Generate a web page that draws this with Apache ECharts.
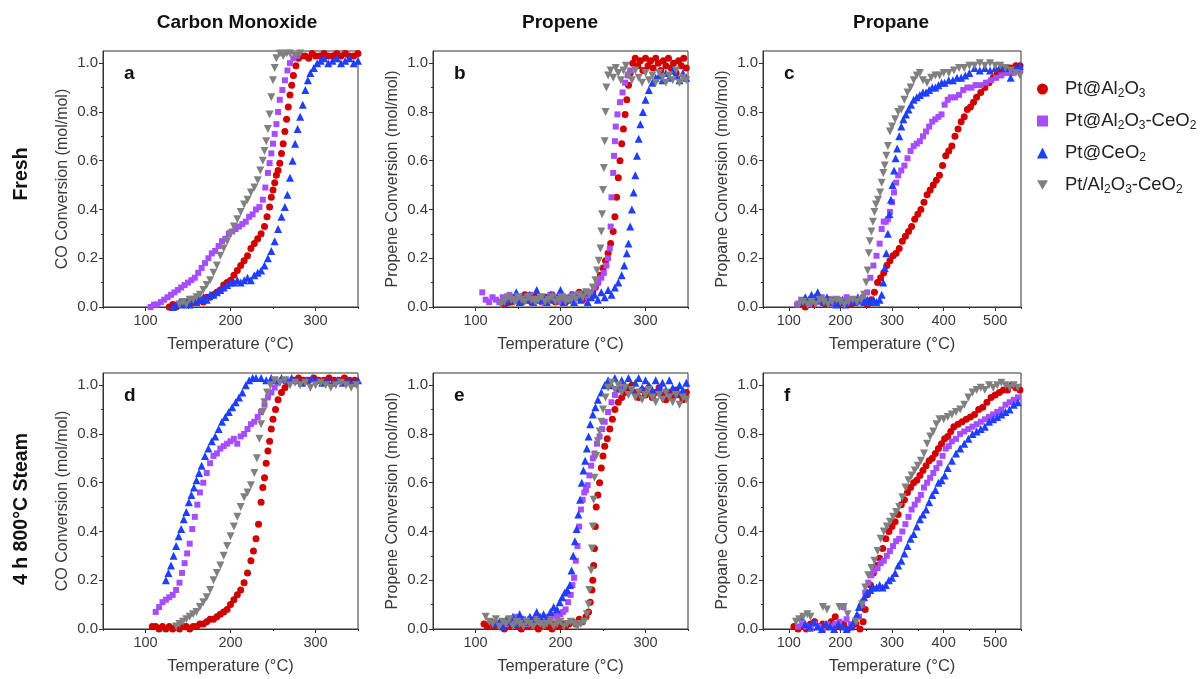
<!DOCTYPE html>
<html>
<head>
<meta charset="utf-8">
<title>Light-off curves</title>
<script src="https://cdn.jsdelivr.net/npm/echarts@6/dist/echarts.min.js"></script>
<style>
  html, body { margin: 0; padding: 0; background: #fff; }
  #chart { width: 1201px; height: 679px; }
</style>
</head>
<body>
<div id="chart"></div>
<script>
// ---- catalyst names (legend order) ----
const catalysts = ['Pt@Al2O3', 'Pt@Al2O3-CeO2', 'Pt@CeO2', 'Pt/Al2O3-CeO2'];

// ---- column / row headings ----
const columnTitles = ['Carbon Monoxide', 'Propene', 'Propane'];
const rowTitles = ['Fresh', '4 h 800°C Steam'];
const panelLetters = ['a', 'b', 'c', 'd', 'e', 'f'];

// ---- axis ticks ----
const yTicks = [0, 0.2, 0.4, 0.6, 0.8, 1.0];
const yMinorTicks = [0.1, 0.3, 0.5, 0.7, 0.9];
const xTicksShort = [100, 200, 300];
const xMinorShort = [50, 150, 250, 350];
const xTicksLong = [100, 200, 300, 400, 500];
const xMinorLong = [50, 150, 250, 350, 450, 550];

// ---- (a) CO, fresh : [temperature °C, conversion mol/mol] ----
const coFreshPtAl = [[128,0.00],[132,0.01],[136,0.00],[140,0.01],[144,0.01],[148,0.02],[152,0.01],[156,0.02],[160,0.02],[164,0.03],[168,0.02],[172,0.04],[176,0.04],[180,0.05],[184,0.06],[188,0.07],[192,0.09],[196,0.10],[200,0.11],[204,0.13],[208,0.15],[212,0.17],[216,0.19],[220,0.21],[224,0.24],[228,0.26],[232,0.28],[236,0.30],[240,0.33],[243,0.37],[246,0.41],[248,0.45],[250,0.48],[252,0.51],[254,0.54],[256,0.56],[258,0.59],[260,0.63],[262,0.67],[264,0.72],[266,0.77],[268,0.82],[270,0.87],[272,0.91],[274,0.95],[277,0.99],[280,1.02],[284,1.03],[288,1.03],[292,1.02],[296,1.04],[300,1.03],[305,1.03],[310,1.04],[315,1.03],[320,1.03],[325,1.04],[330,1.03],[335,1.04],[340,1.03],[345,1.03],[350,1.04]];
const coFreshPtAlCe = [[106,0.00],[110,0.01],[114,0.01],[118,0.02],[122,0.03],[126,0.04],[130,0.05],[134,0.06],[138,0.07],[142,0.08],[146,0.09],[150,0.10],[154,0.11],[158,0.12],[162,0.14],[166,0.16],[170,0.18],[174,0.20],[178,0.22],[182,0.23],[186,0.25],[190,0.27],[194,0.28],[198,0.30],[202,0.31],[206,0.32],[210,0.33],[214,0.34],[218,0.35],[222,0.37],[226,0.38],[230,0.40],[234,0.41],[238,0.44],[241,0.49],[244,0.55],[246,0.59],[248,0.63],[250,0.67],[252,0.71],[254,0.75],[256,0.80],[258,0.85],[261,0.89],[264,0.93],[267,0.97],[270,1.00],[274,1.02],[278,1.03]];
const coFreshPtCe = [[132,0.00],[136,0.01],[140,0.02],[144,0.01],[148,0.02],[152,0.01],[156,0.03],[160,0.02],[164,0.03],[168,0.04],[172,0.03],[176,0.05],[180,0.05],[184,0.06],[188,0.07],[192,0.08],[196,0.09],[200,0.10],[204,0.10],[208,0.11],[212,0.10],[216,0.11],[220,0.12],[224,0.11],[228,0.13],[232,0.14],[236,0.15],[240,0.17],[244,0.20],[248,0.23],[252,0.27],[256,0.32],[260,0.37],[264,0.41],[267,0.46],[270,0.53],[273,0.60],[276,0.67],[279,0.73],[282,0.78],[285,0.83],[288,0.89],[291,0.93],[294,0.96],[298,0.98],[302,1.00],[306,1.01],[310,1.02],[315,1.00],[320,1.01],[325,1.02],[330,1.00],[335,1.01],[340,1.02],[345,1.00],[350,1.01]];
const coFreshImp = [[140,0.01],[144,0.02],[148,0.01],[152,0.03],[156,0.03],[160,0.04],[164,0.05],[168,0.07],[172,0.09],[176,0.11],[180,0.14],[184,0.17],[188,0.21],[192,0.24],[196,0.27],[200,0.30],[204,0.33],[208,0.36],[212,0.39],[216,0.42],[220,0.44],[224,0.47],[228,0.49],[232,0.52],[235,0.56],[238,0.60],[240,0.64],[242,0.68],[244,0.73],[246,0.79],[248,0.86],[250,0.93],[252,0.98],[254,1.02],[258,1.04],[262,1.03],[266,1.04],[270,1.04],[276,1.03],[282,1.04]];

// ---- (b) propene, fresh ----
const c3h6FreshPtAl = [[130,0.02],[134,0.01],[138,0.03],[142,0.02],[146,0.04],[150,0.03],[154,0.02],[158,0.05],[162,0.03],[166,0.02],[170,0.04],[174,0.03],[178,0.02],[182,0.04],[186,0.03],[190,0.05],[194,0.02],[198,0.03],[202,0.04],[206,0.02],[210,0.03],[214,0.05],[218,0.04],[222,0.06],[226,0.03],[230,0.05],[234,0.04],[238,0.06],[241,0.08],[244,0.10],[247,0.13],[250,0.16],[253,0.19],[256,0.22],[259,0.26],[262,0.31],[264,0.37],[266,0.45],[268,0.53],[270,0.60],[272,0.67],[274,0.73],[276,0.79],[278,0.85],[280,0.91],[282,0.96],[285,1.00],[288,1.02],[291,0.99],[294,1.01],[297,0.97],[300,1.02],[303,0.99],[306,1.01],[309,0.98],[312,1.02],[315,1.00],[318,0.97],[321,1.01],[324,0.99],[327,1.02],[330,0.98],[333,1.00],[336,0.96],[339,1.01],[342,0.99],[345,1.02],[348,0.98]];
const c3h6FreshPtAlCe = [[108,0.06],[112,0.03],[116,0.02],[120,0.04],[124,0.03],[128,0.02],[132,0.04],[136,0.03],[140,0.05],[144,0.04],[148,0.03],[152,0.02],[156,0.04],[160,0.03],[164,0.05],[168,0.02],[172,0.03],[176,0.04],[180,0.02],[184,0.03],[188,0.05],[192,0.03],[196,0.04],[200,0.02],[204,0.03],[208,0.04],[212,0.03],[216,0.05],[220,0.04],[224,0.03],[228,0.05],[232,0.04],[236,0.06],[240,0.08],[244,0.10],[248,0.12],[251,0.14],[254,0.17],[256,0.20],[258,0.24],[259,0.33],[260,0.45],[262,0.55],[263,0.62],[264,0.68],[265,0.74],[267,0.79],[270,0.84],[273,0.88],[276,0.92],[279,0.95],[282,0.97]];
const c3h6FreshPtCe = [[136,0.02],[140,0.04],[144,0.03],[148,0.06],[152,0.02],[156,0.04],[160,0.03],[164,0.05],[168,0.02],[172,0.07],[176,0.03],[180,0.04],[184,0.02],[188,0.05],[192,0.03],[196,0.04],[200,0.07],[204,0.02],[208,0.03],[212,0.05],[216,0.02],[220,0.04],[224,0.03],[228,0.06],[232,0.02],[236,0.04],[240,0.05],[244,0.03],[248,0.06],[252,0.04],[256,0.07],[260,0.05],[264,0.08],[268,0.10],[272,0.13],[275,0.17],[278,0.22],[280,0.26],[282,0.33],[284,0.40],[286,0.47],[288,0.54],[290,0.62],[292,0.69],[294,0.75],[297,0.80],[300,0.85],[304,0.89],[308,0.92],[312,0.94],[316,0.95],[320,0.93],[324,0.96],[328,0.94],[332,0.97],[336,0.95],[340,0.93],[344,0.96],[348,0.94]];
const c3h6FreshImp = [[130,0.01],[134,0.02],[138,0.04],[142,0.03],[146,0.02],[150,0.04],[154,0.03],[158,0.02],[162,0.04],[166,0.03],[170,0.02],[174,0.03],[178,0.04],[182,0.02],[186,0.03],[190,0.04],[194,0.02],[198,0.03],[202,0.04],[206,0.02],[210,0.03],[214,0.04],[218,0.03],[222,0.05],[226,0.04],[230,0.06],[234,0.05],[238,0.08],[241,0.11],[243,0.15],[245,0.19],[247,0.24],[248,0.31],[249,0.38],[250,0.48],[251,0.57],[252,0.68],[253,0.80],[254,0.90],[256,0.95],[259,0.97],[262,0.94],[265,0.98],[268,0.96],[271,0.93],[274,0.97],[277,0.99],[280,0.95],[284,0.93],[288,0.97],[292,0.94],[296,0.92],[300,0.96],[304,0.93],[308,0.95],[312,0.92],[316,0.96],[320,0.94],[324,0.92],[328,0.95],[332,0.93],[336,0.97],[340,0.92],[344,0.94],[348,0.93]];

// ---- (c) propane, fresh ----
const c3h8FreshPtAl = [[124,0.01],[132,0.00],[140,0.02],[148,0.01],[156,0.03],[164,0.02],[172,0.01],[180,0.03],[188,0.02],[196,0.01],[204,0.02],[212,0.03],[220,0.01],[228,0.02],[236,0.03],[244,0.02],[252,0.01],[260,0.03],[266,0.06],[272,0.10],[278,0.12],[284,0.14],[290,0.17],[296,0.19],[302,0.21],[308,0.22],[314,0.24],[320,0.27],[326,0.29],[332,0.31],[338,0.33],[344,0.36],[350,0.38],[356,0.40],[362,0.43],[368,0.46],[374,0.48],[380,0.50],[386,0.52],[392,0.54],[398,0.58],[404,0.62],[410,0.64],[416,0.66],[422,0.70],[428,0.73],[434,0.76],[440,0.78],[446,0.81],[452,0.82],[458,0.84],[464,0.86],[472,0.88],[480,0.90],[488,0.92],[496,0.94],[504,0.96],[512,0.97],[520,0.98],[530,0.98],[540,0.99],[548,0.99]];
const c3h8FreshPtAlCe = [[116,0.01],[124,0.03],[132,0.02],[140,0.01],[148,0.03],[156,0.02],[164,0.04],[172,0.02],[180,0.03],[188,0.01],[196,0.03],[204,0.02],[212,0.04],[220,0.02],[228,0.03],[236,0.02],[244,0.04],[252,0.06],[258,0.12],[264,0.17],[270,0.21],[276,0.26],[280,0.32],[284,0.35],[288,0.35],[292,0.36],[296,0.39],[300,0.43],[304,0.47],[308,0.51],[312,0.54],[318,0.56],[324,0.58],[330,0.61],[336,0.64],[342,0.66],[348,0.67],[354,0.68],[360,0.70],[366,0.72],[372,0.74],[378,0.76],[384,0.77],[390,0.78],[396,0.79],[402,0.83],[408,0.85],[414,0.86],[422,0.86],[430,0.87],[438,0.89],[446,0.90],[454,0.90],[462,0.91],[472,0.91],[482,0.92],[492,0.93],[502,0.94],[512,0.95],[522,0.96],[532,0.96],[542,0.97],[548,0.97]];
const c3h8FreshPtCe = [[126,0.02],[132,0.04],[138,0.03],[144,0.05],[150,0.04],[156,0.06],[162,0.03],[168,0.02],[174,0.04],[180,0.02],[186,0.03],[192,0.01],[198,0.02],[204,0.03],[210,0.01],[216,0.02],[222,0.03],[228,0.02],[234,0.04],[240,0.03],[246,0.02],[252,0.03],[258,0.02],[264,0.03],[270,0.02],[276,0.03],[280,0.05],[283,0.10],[286,0.16],[289,0.22],[292,0.30],[295,0.38],[298,0.44],[301,0.50],[304,0.56],[307,0.61],[310,0.65],[314,0.70],[318,0.74],[322,0.77],[327,0.79],[332,0.81],[337,0.83],[342,0.85],[348,0.86],[354,0.87],[360,0.88],[366,0.88],[372,0.89],[378,0.90],[384,0.90],[390,0.91],[396,0.92],[402,0.92],[410,0.93],[418,0.93],[426,0.94],[434,0.94],[442,0.95],[450,0.96],[460,0.98],[470,0.97],[480,0.98],[490,0.97],[500,0.98],[510,0.99],[520,0.98],[530,0.94],[540,0.98],[548,0.99]];
const c3h8FreshImp = [[120,0.01],[128,0.02],[136,0.01],[144,0.02],[152,0.01],[160,0.03],[168,0.02],[176,0.01],[184,0.02],[192,0.03],[200,0.02],[208,0.01],[216,0.02],[224,0.03],[232,0.02],[240,0.03],[246,0.05],[250,0.10],[253,0.15],[255,0.22],[257,0.27],[260,0.31],[263,0.35],[266,0.39],[269,0.42],[273,0.44],[277,0.47],[280,0.51],[283,0.55],[286,0.58],[289,0.62],[292,0.66],[296,0.72],[300,0.74],[306,0.77],[312,0.80],[318,0.81],[324,0.85],[330,0.88],[336,0.90],[342,0.93],[348,0.95],[354,0.96],[360,0.93],[368,0.92],[376,0.94],[384,0.95],[392,0.95],[400,0.96],[410,0.96],[420,0.97],[430,0.98],[440,0.98],[450,0.99],[460,0.99],[470,1.00],[480,0.99],[490,1.00],[500,0.99],[510,0.99],[520,0.98],[530,0.97],[540,0.96],[548,0.95]];

// ---- (d) CO, 4 h 800 °C steam ----
const coAgedPtAl = [[108,0.01],[112,0.01],[116,0.00],[120,0.01],[124,0.00],[128,0.01],[132,0.00],[136,0.01],[140,0.00],[144,0.01],[148,0.01],[152,0.00],[156,0.01],[160,0.01],[164,0.02],[168,0.02],[172,0.03],[176,0.04],[180,0.04],[184,0.05],[188,0.06],[192,0.07],[196,0.08],[200,0.10],[204,0.12],[208,0.14],[212,0.16],[216,0.19],[220,0.23],[224,0.28],[227,0.32],[230,0.37],[233,0.43],[236,0.52],[238,0.58],[240,0.62],[242,0.68],[244,0.73],[246,0.77],[248,0.82],[250,0.86],[253,0.90],[256,0.94],[260,0.97],[264,0.99],[268,1.01],[274,1.02],[280,1.03],[286,1.02],[292,1.02],[298,1.03],[304,1.02],[310,1.02],[316,1.03],[322,1.02],[328,1.02],[334,1.03],[340,1.02],[346,1.02]];
const coAgedPtAlCe = [[112,0.07],[116,0.09],[120,0.11],[124,0.12],[128,0.13],[132,0.14],[136,0.16],[140,0.19],[143,0.23],[146,0.27],[149,0.31],[152,0.35],[155,0.41],[158,0.46],[161,0.51],[164,0.56],[168,0.60],[172,0.64],[176,0.68],[180,0.71],[184,0.72],[188,0.74],[192,0.75],[196,0.76],[200,0.77],[204,0.78],[208,0.76],[212,0.79],[216,0.80],[220,0.82],[224,0.84],[228,0.85],[232,0.87],[236,0.89],[240,0.92],[244,0.95],[248,0.97],[252,0.99],[256,1.01],[260,1.02],[266,1.02]];
const coAgedPtCe = [[124,0.20],[127,0.23],[130,0.26],[133,0.30],[136,0.34],[139,0.38],[142,0.41],[145,0.45],[148,0.48],[151,0.52],[154,0.55],[157,0.58],[160,0.61],[163,0.64],[166,0.67],[170,0.71],[174,0.74],[178,0.77],[182,0.79],[186,0.82],[190,0.85],[194,0.87],[198,0.89],[202,0.91],[206,0.93],[210,0.95],[214,0.97],[218,1.00],[222,1.02],[226,1.03],[230,1.03],[236,1.03],[242,1.02],[248,1.03],[254,1.02],[260,1.03],[266,1.02],[272,1.03],[278,1.02],[284,1.01],[290,1.02],[296,1.03],[302,1.02],[308,1.01],[314,1.02],[320,1.01],[326,1.02],[332,1.01],[338,1.02],[344,1.01],[350,1.02]];
const coAgedImp = [[136,0.01],[140,0.02],[144,0.03],[148,0.04],[152,0.05],[156,0.06],[160,0.07],[164,0.09],[168,0.11],[172,0.13],[176,0.16],[180,0.20],[184,0.23],[188,0.26],[192,0.30],[196,0.34],[200,0.38],[204,0.42],[208,0.46],[212,0.50],[216,0.54],[220,0.56],[224,0.59],[228,0.64],[231,0.70],[234,0.78],[236,0.84],[238,0.89],[240,0.93],[243,0.97],[247,1.00],[252,1.02],[258,1.01],[264,1.02],[270,1.00],[276,1.01],[282,1.00],[288,1.01],[294,0.99],[300,1.00],[306,1.01],[312,1.00],[318,0.99],[324,1.00],[330,1.01],[336,1.00],[342,0.99],[348,1.00]];

// ---- (e) propene, 4 h 800 °C steam ----
const c3h6AgedPtAl = [[110,0.02],[114,0.01],[118,0.03],[122,0.01],[126,0.02],[130,0.01],[134,0.00],[138,0.02],[142,0.01],[146,0.02],[150,0.01],[154,0.00],[158,0.02],[162,0.01],[166,0.02],[170,0.01],[174,0.00],[178,0.01],[182,0.02],[186,0.01],[190,0.00],[194,0.02],[198,0.01],[202,0.02],[206,0.01],[210,0.02],[214,0.03],[218,0.02],[222,0.04],[226,0.03],[230,0.05],[233,0.07],[235,0.11],[237,0.16],[238,0.20],[239,0.26],[240,0.33],[241,0.42],[242,0.50],[244,0.55],[246,0.60],[248,0.66],[250,0.71],[252,0.75],[255,0.78],[258,0.82],[261,0.86],[264,0.90],[268,0.93],[272,0.95],[276,0.97],[280,0.99],[284,1.00],[288,0.97],[292,0.95],[296,0.98],[300,0.96],[304,0.99],[308,0.95],[312,0.97],[316,0.99],[320,0.96],[324,0.94],[328,0.97],[332,0.95],[336,0.98],[340,0.96],[344,0.94],[348,0.97]];
const c3h6AgedPtAlCe = [[128,0.02],[132,0.03],[136,0.02],[140,0.04],[144,0.03],[148,0.05],[152,0.03],[156,0.04],[160,0.02],[164,0.04],[168,0.03],[172,0.05],[176,0.04],[180,0.03],[184,0.05],[188,0.04],[192,0.06],[196,0.05],[200,0.06],[203,0.07],[206,0.08],[209,0.11],[212,0.14],[214,0.18],[216,0.21],[218,0.28],[220,0.34],[222,0.42],[224,0.49],[226,0.53],[228,0.56],[230,0.57],[232,0.59],[234,0.63],[236,0.67],[238,0.70],[240,0.72],[243,0.76],[246,0.79],[249,0.82],[252,0.85],[256,0.89],[260,0.93],[264,0.96],[268,0.98],[272,0.99]];
const c3h6AgedPtCe = [[124,0.02],[128,0.03],[132,0.01],[136,0.04],[140,0.03],[144,0.05],[148,0.02],[152,0.06],[156,0.04],[160,0.03],[164,0.05],[168,0.04],[172,0.07],[176,0.05],[180,0.06],[184,0.04],[188,0.07],[192,0.09],[196,0.08],[199,0.11],[202,0.13],[205,0.15],[208,0.16],[211,0.18],[213,0.24],[215,0.30],[217,0.36],[219,0.41],[221,0.47],[223,0.53],[225,0.60],[227,0.65],[229,0.69],[231,0.74],[233,0.79],[235,0.84],[238,0.88],[241,0.91],[244,0.94],[248,0.97],[252,1.00],[256,1.02],[260,1.00],[264,1.03],[268,0.99],[272,1.02],[276,1.00],[280,1.03],[284,0.98],[288,1.01],[292,1.03],[296,0.99],[300,1.02],[304,1.00],[308,0.98],[312,1.02],[316,0.99],[320,1.01],[324,0.98],[328,1.02],[332,0.99],[336,0.97],[340,1.00],[344,0.98],[348,1.01]];
const c3h6AgedImp = [[112,0.05],[116,0.03],[120,0.02],[124,0.04],[128,0.01],[132,0.03],[136,0.02],[140,0.04],[144,0.01],[148,0.03],[152,0.02],[156,0.01],[160,0.03],[164,0.02],[168,0.01],[172,0.03],[176,0.02],[180,0.01],[184,0.02],[188,0.03],[192,0.01],[196,0.02],[200,0.03],[204,0.01],[208,0.02],[212,0.03],[216,0.02],[220,0.01],[224,0.02],[228,0.03],[231,0.06],[233,0.10],[234,0.16],[236,0.24],[237,0.33],[238,0.42],[239,0.53],[240,0.62],[242,0.71],[244,0.77],[246,0.81],[248,0.85],[250,0.90],[253,0.95],[256,0.99],[260,1.01],[264,0.98],[268,1.00],[272,0.97],[276,0.99],[280,0.96],[284,0.98],[288,0.95],[292,0.97],[296,0.94],[300,0.96],[304,0.98],[308,0.95],[312,0.93],[316,0.96],[320,0.94],[324,0.97],[328,0.95],[332,0.93],[336,0.96],[340,0.92],[344,0.95],[348,0.94]];

// ---- (f) propane, 4 h 800 °C steam ----
const c3h8AgedPtAl = [[110,0.01],[118,0.00],[126,0.01],[134,0.00],[142,0.02],[150,0.03],[158,0.01],[166,0.02],[174,0.01],[182,0.03],[190,0.05],[198,0.01],[206,0.02],[214,0.00],[222,0.01],[230,0.02],[238,0.00],[244,0.03],[248,0.08],[252,0.14],[258,0.18],[264,0.23],[270,0.26],[276,0.29],[282,0.33],[288,0.37],[294,0.40],[300,0.42],[306,0.44],[312,0.47],[318,0.51],[324,0.53],[330,0.56],[336,0.58],[342,0.60],[348,0.61],[354,0.63],[360,0.65],[366,0.67],[372,0.69],[378,0.70],[384,0.72],[390,0.74],[396,0.76],[402,0.78],[408,0.79],[414,0.81],[420,0.83],[428,0.84],[436,0.85],[444,0.86],[452,0.87],[460,0.88],[468,0.90],[476,0.91],[484,0.93],[492,0.95],[500,0.96],[508,0.97],[516,0.98],[524,0.98],[532,1.00],[540,0.99],[548,0.98]];
const c3h8AgedPtAlCe = [[118,0.01],[126,0.02],[134,0.01],[142,0.00],[150,0.02],[158,0.01],[166,0.00],[174,0.02],[182,0.01],[190,0.02],[198,0.03],[206,0.09],[212,0.04],[220,0.02],[228,0.03],[236,0.05],[242,0.10],[248,0.15],[254,0.19],[260,0.22],[266,0.24],[272,0.25],[278,0.27],[284,0.28],[290,0.30],[296,0.32],[302,0.34],[308,0.36],[314,0.37],[320,0.40],[326,0.43],[332,0.46],[338,0.49],[344,0.51],[350,0.53],[356,0.55],[362,0.58],[368,0.60],[374,0.62],[380,0.64],[386,0.66],[392,0.68],[398,0.71],[404,0.74],[410,0.75],[416,0.77],[424,0.78],[432,0.80],[440,0.81],[448,0.82],[456,0.83],[464,0.84],[472,0.85],[480,0.86],[488,0.87],[496,0.88],[504,0.89],[512,0.90],[520,0.92],[528,0.93],[536,0.94],[544,0.95]];
const c3h8AgedPtCe = [[124,0.05],[132,0.02],[140,0.01],[148,0.03],[156,0.01],[164,0.00],[172,0.02],[180,0.01],[188,0.00],[196,0.02],[204,0.01],[212,0.00],[220,0.01],[226,0.03],[232,0.06],[236,0.09],[240,0.11],[246,0.13],[252,0.15],[258,0.16],[264,0.17],[270,0.17],[276,0.18],[282,0.17],[288,0.18],[294,0.20],[300,0.21],[306,0.23],[312,0.26],[318,0.28],[324,0.31],[330,0.34],[336,0.37],[342,0.39],[348,0.42],[354,0.45],[360,0.47],[366,0.49],[372,0.52],[378,0.55],[384,0.57],[390,0.60],[396,0.61],[402,0.63],[408,0.66],[416,0.69],[424,0.72],[432,0.74],[440,0.76],[448,0.78],[456,0.80],[464,0.81],[472,0.82],[480,0.83],[488,0.85],[496,0.86],[504,0.87],[512,0.88],[520,0.89],[528,0.90],[536,0.92],[544,0.93]];
const c3h8AgedImp = [[114,0.03],[120,0.04],[128,0.05],[136,0.06],[142,0.05],[166,0.09],[174,0.08],[198,0.09],[206,0.09],[214,0.06],[230,0.03],[242,0.10],[248,0.17],[254,0.22],[260,0.25],[266,0.28],[272,0.32],[278,0.37],[284,0.40],[290,0.42],[296,0.44],[302,0.46],[308,0.48],[314,0.50],[320,0.54],[326,0.58],[332,0.61],[338,0.63],[344,0.65],[350,0.67],[356,0.69],[362,0.72],[368,0.76],[374,0.79],[380,0.81],[386,0.84],[392,0.86],[400,0.86],[408,0.87],[416,0.88],[424,0.89],[432,0.90],[440,0.92],[448,0.95],[456,0.97],[464,0.98],[472,0.99],[480,0.98],[488,1.00],[496,0.99],[504,1.00],[512,1.01],[520,1.00],[528,0.99],[536,1.00],[544,0.99]];

// ---- panel definitions ----
const panels = [
  { yName: 'CO Conversion (mol/mol)',      xMax: 350, ticks: xTicksShort, minor: xMinorShort, data: [coFreshPtAl, coFreshPtAlCe, coFreshPtCe, coFreshImp] },
  { yName: 'Propene Conversion (mol/mol)', xMax: 350, ticks: xTicksShort, minor: xMinorShort, data: [c3h6FreshPtAl, c3h6FreshPtAlCe, c3h6FreshPtCe, c3h6FreshImp] },
  { yName: 'Propane Conversion (mol/mol)', xMax: 550, ticks: xTicksLong,  minor: xMinorLong,  data: [c3h8FreshPtAl, c3h8FreshPtAlCe, c3h8FreshPtCe, c3h8FreshImp] },
  { yName: 'CO Conversion (mol/mol)',      xMax: 350, ticks: xTicksShort, minor: xMinorShort, data: [coAgedPtAl, coAgedPtAlCe, coAgedPtCe, coAgedImp] },
  { yName: 'Propene Conversion (mol/mol)', xMax: 350, ticks: xTicksShort, minor: xMinorShort, data: [c3h6AgedPtAl, c3h6AgedPtAlCe, c3h6AgedPtCe, c3h6AgedImp] },
  { yName: 'Propane Conversion (mol/mol)', xMax: 550, ticks: xTicksLong,  minor: xMinorLong,  data: [c3h8AgedPtAl, c3h8AgedPtAlCe, c3h8AgedPtCe, c3h8AgedImp] }
];

// ---- styling / layout ----
const FONT = 'Arial, "Liberation Sans", Helvetica, sans-serif';
const AXIS_COLOR = '#333333';
const LABEL_COLOR = '#3a3a3a';
const colors = ['#d00000', '#a64dff', '#1f3fff', '#808080'];
const symbols = ['circle', 'rect', 'triangle', 'path://M0,0L10,0L5,8.66Z'];
const symbolSizes = [7, 6, 8, 8];
const colLeft = [103, 433, 763];
const colWidth = [255, 255, 258];
const rowTop = [51, 373];
const rowHeight = 256;
const titleCenters = [237, 560, 891];
const rowCenters = [174, 509];

const grids = [], xAxes = [], yAxes = [], series = [];

panels.forEach((p, i) => {
  const col = i % 3, row = Math.floor(i / 3);
  grids.push({
    left: colLeft[col], top: rowTop[row], width: colWidth[col], height: rowHeight,
    show: true, borderColor: AXIS_COLOR, borderWidth: 1, backgroundColor: 'transparent'
  });
  // main x axis: labels + major ticks
  xAxes.push({
    type: 'value', gridIndex: i, min: 50, max: p.xMax, position: 'bottom',
    name: 'Temperature (°C)', nameLocation: 'middle', nameGap: 29,
    nameTextStyle: { fontFamily: FONT, fontSize: 16.5, color: LABEL_COLOR },
    axisLine: { show: true, onZero: false, lineStyle: { color: AXIS_COLOR, width: 1 } },
    axisTick: { show: true, length: 4, customValues: p.ticks, lineStyle: { color: AXIS_COLOR } },
    axisLabel: { customValues: p.ticks, fontFamily: FONT, fontSize: 14.5, color: LABEL_COLOR, margin: 6 },
    splitLine: { show: false }
  });
  // main y axis
  yAxes.push({
    type: 'value', gridIndex: i, min: 0, max: 1.05, position: 'left',
    name: p.yName, nameLocation: 'middle', nameGap: 32,
    nameTextStyle: { fontFamily: FONT, fontSize: 16, color: LABEL_COLOR },
    axisLine: { show: true, onZero: false, lineStyle: { color: AXIS_COLOR, width: 1 } },
    axisTick: { show: true, length: 4, customValues: yTicks, lineStyle: { color: AXIS_COLOR } },
    axisLabel: { customValues: yTicks, formatter: v => v.toFixed(1), fontFamily: FONT, fontSize: 15, color: LABEL_COLOR, margin: 5 },
    splitLine: { show: false }
  });
});

// minor-tick axes share each grid
panels.forEach((p, i) => {
  xAxes.push({
    type: 'value', gridIndex: i, min: 50, max: p.xMax, position: 'bottom',
    axisLine: { show: false, onZero: false },
    axisTick: { show: true, length: 2, customValues: p.minor, lineStyle: { color: AXIS_COLOR } },
    axisLabel: { show: false }, splitLine: { show: false }
  });
  yAxes.push({
    type: 'value', gridIndex: i, min: 0, max: 1.05, position: 'left',
    axisLine: { show: false, onZero: false },
    axisTick: { show: true, length: 2, customValues: yMinorTicks, lineStyle: { color: AXIS_COLOR } },
    axisLabel: { show: false }, splitLine: { show: false }
  });
});

panels.forEach((p, i) => {
  p.data.forEach((d, k) => {
    series.push({
      type: 'scatter', name: catalysts[k], xAxisIndex: i, yAxisIndex: i,
      data: d, symbol: symbols[k], symbolSize: symbolSizes[k],
      itemStyle: { color: colors[k], opacity: 1 },
      emphasis: { disabled: true }, silent: true, animation: false, clip: true
    });
  });
});

// headings, row labels and panel letters
const graphics = [];
columnTitles.forEach((t, c) => {
  graphics.push({ type: 'text', x: titleCenters[c], y: 23,
    style: { text: t, font: 'bold 19px ' + FONT, fill: '#111', align: 'center', verticalAlign: 'middle' } });
});
rowTitles.forEach((t, r) => {
  graphics.push({ type: 'text', x: 22, y: rowCenters[r], rotation: Math.PI / 2,
    style: { text: t, font: 'bold 19.5px ' + FONT, fill: '#111', align: 'center', verticalAlign: 'middle' } });
});
panelLetters.forEach((t, i) => {
  const col = i % 3, row = Math.floor(i / 3);
  graphics.push({ type: 'text', x: colLeft[col] + 21, y: rowTop[row] + 23,
    style: { text: t, font: 'bold 19px ' + FONT, fill: '#111', align: 'left', verticalAlign: 'middle' } });
});

const chart = echarts.init(document.getElementById('chart'), null, { renderer: 'canvas' });
chart.setOption({
  animation: false,
  backgroundColor: '#ffffff',
  grid: grids,
  xAxis: xAxes,
  yAxis: yAxes,
  legend: {
    data: catalysts, orient: 'vertical', left: 1032, top: 73,
    itemWidth: 11, itemHeight: 11, itemGap: 10, selectedMode: false,
    formatter: name => name.replace(/(\d)/g, '{s|$1}'),
    textStyle: {
      fontFamily: FONT, fontSize: 18.5, color: '#222', lineHeight: 22, padding: [0, 0, 0, 12],
      rich: { s: { fontFamily: FONT, fontSize: 12, lineHeight: 12, color: '#222', verticalAlign: 'bottom' } }
    }
  },
  graphic: graphics,
  series: series
});
</script>
</body>
</html>
